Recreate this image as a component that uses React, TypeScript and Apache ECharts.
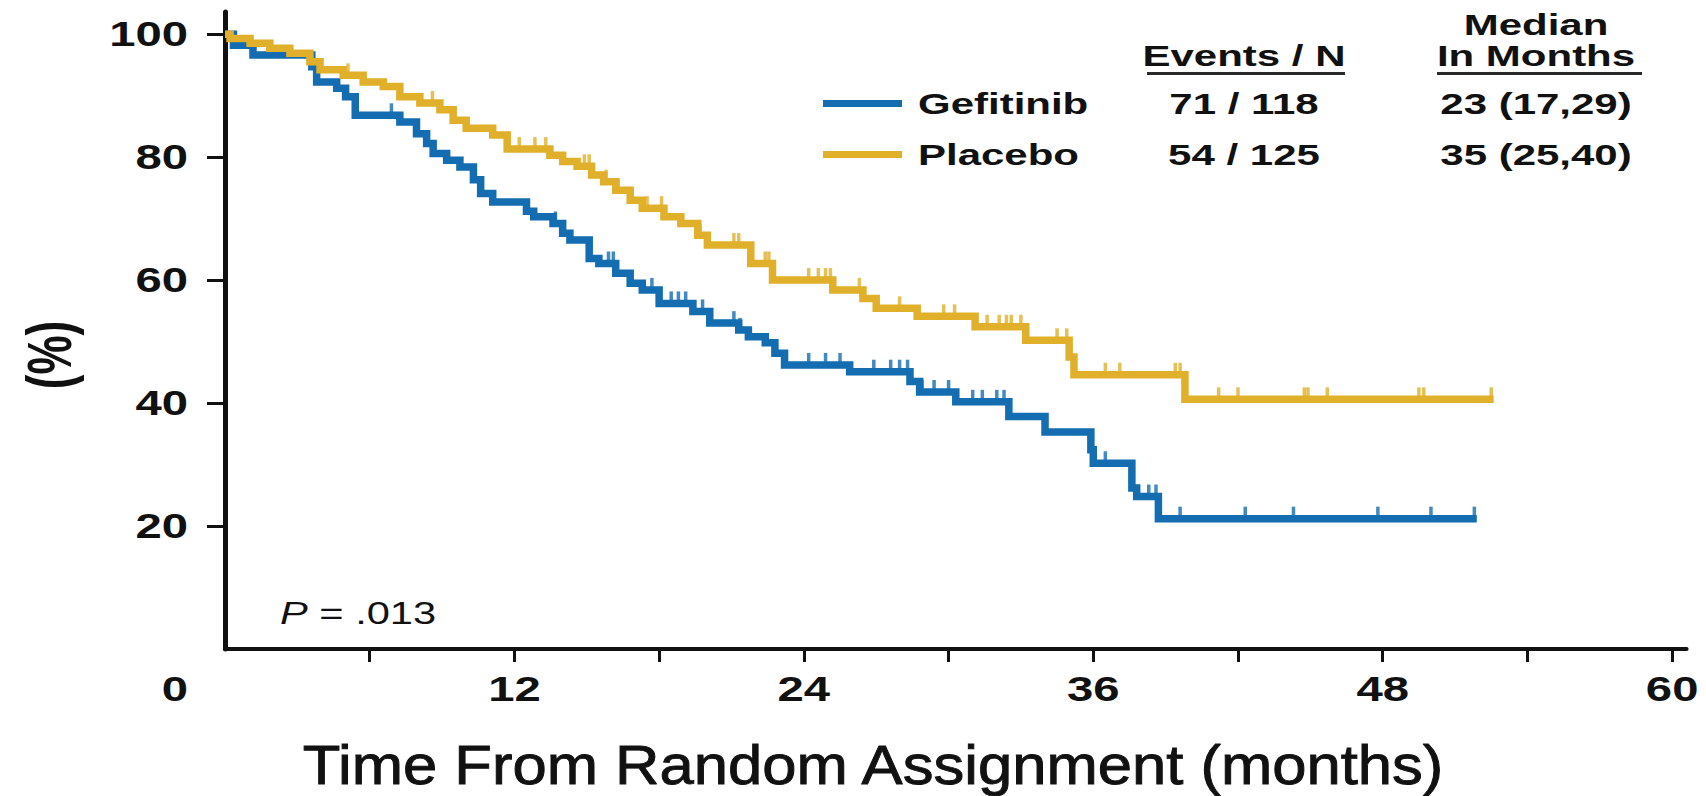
import React, { useEffect, useRef } from 'react';
import * as echarts from 'echarts';

// Kaplan-Meier steps: time of each drop (months) and the survival level (%) after it
const gefitinibTime = [0, 0.35, 1.16, 3.6, 3.8, 4.63, 5.0, 5.4, 7.25, 7.94, 8.36, 8.63, 9.19, 9.74, 10.3, 10.6, 11.1, 12.5, 12.8, 13.6, 14.0, 14.3, 15.1, 15.5, 16.2, 16.8, 17.3, 18.0, 19.4, 20.1, 21.3, 21.7, 22.4, 22.8, 23.2, 25.9, 28.4, 28.8, 30.3, 32.5, 34.0, 35.9, 36.0, 37.6, 37.8, 38.7, 51.9];
const gefitinibSurv = [100, 98.2, 96.6, 94.7, 92.2, 91.2, 89.8, 86.8, 85.7, 83.8, 82.2, 80.6, 79.5, 78.4, 76.3, 74.1, 72.7, 71.2, 70.3, 69.2, 67.6, 66.5, 63.5, 62.7, 61.1, 59.5, 58.4, 56.2, 54.9, 53.0, 51.9, 50.8, 49.8, 48.1, 46.2, 45.1, 43.5, 41.8, 40.2, 37.8, 35.3, 32.4, 30.2, 26.2, 24.8, 21.2, 21.2];
const gefitinibCensor = [6.9, 13.7, 15.9, 16.1, 17.7, 18.5, 18.8, 19.1, 19.8, 21.1, 21.35, 24.2, 24.9, 25.5, 26.9, 27.6, 27.97, 28.3, 28.9, 29.4, 30.0, 31.0, 31.4, 32.0, 32.3, 36.5, 38.3, 38.6, 39.6, 42.3, 44.3, 47.8, 50.0, 51.8];

const placeboTime = [0, 0.21, 1.04, 1.86, 2.69, 3.52, 3.94, 4.9, 5.73, 6.56, 7.25, 8.08, 8.91, 9.46, 10.0, 11.1, 11.7, 13.47, 14.0, 14.6, 15.2, 15.7, 16.2, 16.8, 17.3, 18.2, 18.9, 19.6, 20.0, 21.8, 22.7, 25.2, 26.45, 27.0, 28.7, 31.1, 33.2, 35.0, 35.2, 39.8, 52.6];
const placeboSurv = [100, 99.3, 98.5, 97.7, 96.9, 95.5, 94.2, 93.3, 92.2, 91.5, 89.8, 88.8, 87.7, 86.0, 84.7, 83.6, 81.3, 80.3, 79.3, 78.5, 77.1, 76.0, 74.6, 73.0, 71.7, 70.3, 69.2, 67.3, 65.7, 62.7, 60.0, 58.4, 57.0, 55.4, 54.1, 52.4, 50.2, 47.5, 44.6, 40.6, 40.6];
const placeboCensor = [5.1, 8.6, 12.2, 12.85, 13.3, 14.9, 15.1, 15.8, 16.3, 17.5, 18.1, 19.7, 21.1, 21.3, 22.4, 22.55, 24.2, 24.6, 24.9, 25.1, 26.3, 27.97, 29.8, 30.25, 31.6, 32.1, 32.4, 32.6, 33.0, 34.5, 34.9, 36.5, 37.1, 39.4, 39.6, 41.2, 42.0, 44.75, 44.9, 45.7, 49.5, 49.7, 52.5];

const xTickValues = [6, 12, 18, 24, 30, 36, 42, 48, 54, 60];
const xTickLabels = [0, 12, 24, 36, 48, 60];
const yTickLabels = [20, 40, 60, 80, 100];

const groupNames = ['Gefitinib', 'Placebo'];
const eventsPerN = ['71 / 118', '54 / 125'];
const medianMonths = ['23 (17,29)', '35 (25,40)'];
const pValueText = '{i|P} = .013';
const xTitle = 'Time From Random Assignment (months)';
const yTitle = '(%)';

const BLUE = '#136db0';
const GOLD = '#e0b02a';
const INK = '#111111';
const FONT = '"Liberation Sans", Arial, Helvetica, sans-serif';

function levelAt(times: number[], surv: number[], t: number): number {
  let v = surv[0];
  for (let i = 0; i < times.length; i++) {
    if (times[i] <= t) v = surv[i];
  }
  return v;
}

const stepData = (times: number[], surv: number[]) => times.map((t, i) => [t, surv[i]]);
const censorData = (times: number[], surv: number[], censor: number[]) =>
  censor.map((t) => [t, levelAt(times, surv, t)]);

type TextOpts = {
  size: number;
  weight?: string;
  align?: string;
  valign?: string;
  sx?: number;
  sy?: number;
  rot?: number;
  rich?: any;
  strokeWidth?: number;
};

function textEl(text: string, x: number, y: number, o: TextOpts) {
  const align = o.align || 'left';
  const valign = o.valign || 'middle';
  const style: any = {
    text,
    fill: INK,
    fontFamily: FONT,
    fontSize: o.size,
    fontWeight: o.weight || 'normal',
    align,
    verticalAlign: valign,
    textAlign: align,
    textVerticalAlign: valign,
    rich: o.rich,
  };
  if (o.strokeWidth) {
    style.stroke = INK;
    style.lineWidth = o.strokeWidth;
  }
  return {
    type: 'text',
    x,
    y,
    scaleX: o.sx ?? 1,
    scaleY: o.sy ?? 1,
    rotation: o.rot ?? 0,
    silent: true,
    z: 10,
    style,
  };
}

function lineEl(x1: number, y1: number, x2: number, y2: number, stroke: string, width: number) {
  return {
    type: 'line',
    silent: true,
    z: 10,
    shape: { x1, y1, x2, y2 },
    style: { stroke, lineWidth: width, lineCap: 'butt' },
  };
}

export default function App() {
  const ref = useRef<HTMLDivElement>(null);

  useEffect(() => {
    if (!ref.current) return;
    document.body.style.margin = '0';
    const chart = echarts.init(ref.current, undefined, { renderer: 'svg' });

    const curve = (name: string, times: number[], surv: number[], color: string) => ({
      type: 'line',
      name,
      step: 'end',
      data: stepData(times, surv),
      showSymbol: false,
      symbol: 'none',
      lineStyle: { color, width: 7.5, join: 'miter', cap: 'butt' },
      emphasis: { disabled: true },
    });
    const censors = (name: string, times: number[], surv: number[], censor: number[], color: string) => ({
      type: 'scatter',
      name: name + ' censored',
      data: censorData(times, surv, censor),
      symbol: 'rect',
      symbolSize: [3.5, 12],
      symbolOffset: [0, -6],
      itemStyle: { color },
      emphasis: { disabled: true },
    });

    chart.setOption({
      animation: false,
      backgroundColor: '#ffffff',
      grid: { left: 225, right: 19.4, top: 12, bottom: 147, containLabel: false, outerBoundsMode: 'none' },
      xAxis: {
        type: 'value',
        min: 0,
        max: 60.6,
        interval: 6,
        axisLine: { show: true, onZero: true, lineStyle: { color: INK, width: 4 } },
        axisTick: { show: true, inside: false, length: 13, customValues: xTickValues, lineStyle: { color: INK, width: 3 } },
        axisLabel: { show: false },
        splitLine: { show: false },
      },
      yAxis: {
        type: 'value',
        min: 0,
        max: 103.6,
        interval: 20,
        axisLine: { show: true, onZero: true, lineStyle: { color: INK, width: 5 } },
        axisTick: { show: true, inside: false, length: 18, customValues: yTickLabels, lineStyle: { color: INK, width: 3 } },
        axisLabel: { show: false },
        splitLine: { show: false },
      },
      tooltip: { show: false },
      series: [
        curve('Gefitinib', gefitinibTime, gefitinibSurv, BLUE),
        censors('Gefitinib', gefitinibTime, gefitinibSurv, gefitinibCensor, BLUE),
        curve('Placebo', placeboTime, placeboSurv, GOLD),
        censors('Placebo', placeboTime, placeboSurv, placeboCensor, GOLD),
      ],
    });

    // Tick labels and annotations, placed from the axes' own scales
    const px = (v: number) => chart.convertToPixel({ xAxisIndex: 0 }, v) as number;
    const py = (v: number) => chart.convertToPixel({ yAxisIndex: 0 }, v) as number;
    const x0 = px(0);
    const y0 = py(0);

    const tickFont = { size: 35, weight: 'bold', sx: 1.35 };
    const els: any[] = [];

    yTickLabels.forEach((v) => {
      els.push(textEl(String(v), x0 - 37, py(v), { ...tickFont, align: 'right' }));
    });
    xTickLabels.forEach((v) => {
      if (v === 0) {
        els.push(textEl('0', x0 - 37, y0 + 40, { ...tickFont, align: 'right' }));
      } else {
        els.push(textEl(String(v), px(v), y0 + 40, { ...tickFont, align: 'center' }));
      }
    });

    // axis titles
    els.push(textEl(xTitle, 873, 765, { size: 55, align: 'center', sx: 1.12, strokeWidth: 0.9 }));
    els.push(textEl(yTitle, 49, 355, { size: 44, weight: 'bold', align: 'center', rot: Math.PI / 2, sy: 1.45 }));

    // P value
    els.push(
      textEl(pValueText, 280, 613, {
        size: 32,
        sx: 1.3,
        rich: { i: { fontStyle: 'italic', fontSize: 32, fontFamily: FONT, fill: INK } },
      })
    );

    // legend table
    const tf = { size: 30, weight: 'bold', sx: 1.4 };
    const rowY = [104, 155];
    const colEvents = 1244;
    const colMedian = 1536;
    els.push(textEl('Median', colMedian, 25, { ...tf, align: 'center' }));
    els.push(textEl('In Months', colMedian, 56, { ...tf, align: 'center' }));
    els.push(textEl('Events / N', colEvents, 56, { ...tf, align: 'center' }));
    els.push(lineEl(1147, 73.5, 1345, 73.5, '#2a2a2a', 3));
    els.push(lineEl(1437, 73.5, 1642, 73.5, '#2a2a2a', 3));
    const colors = [BLUE, GOLD];
    groupNames.forEach((g, i) => {
      els.push(lineEl(823, rowY[i] - 0.5, 902, rowY[i] - 0.5, colors[i], 7));
      els.push(textEl(g, 918, rowY[i], { ...tf, align: 'left' }));
      els.push(textEl(eventsPerN[i], colEvents, rowY[i], { ...tf, align: 'center' }));
      els.push(textEl(medianMonths[i], colMedian, rowY[i], { ...tf, align: 'center' }));
    });

    chart.setOption({ graphic: { elements: els } });

    return () => {
      chart.dispose();
    };
  }, []);

  return (
    <div
      ref={ref}
      style={{ position: 'fixed', left: 0, top: 0, width: 1706, height: 796, background: '#ffffff' }}
    />
  );
}
